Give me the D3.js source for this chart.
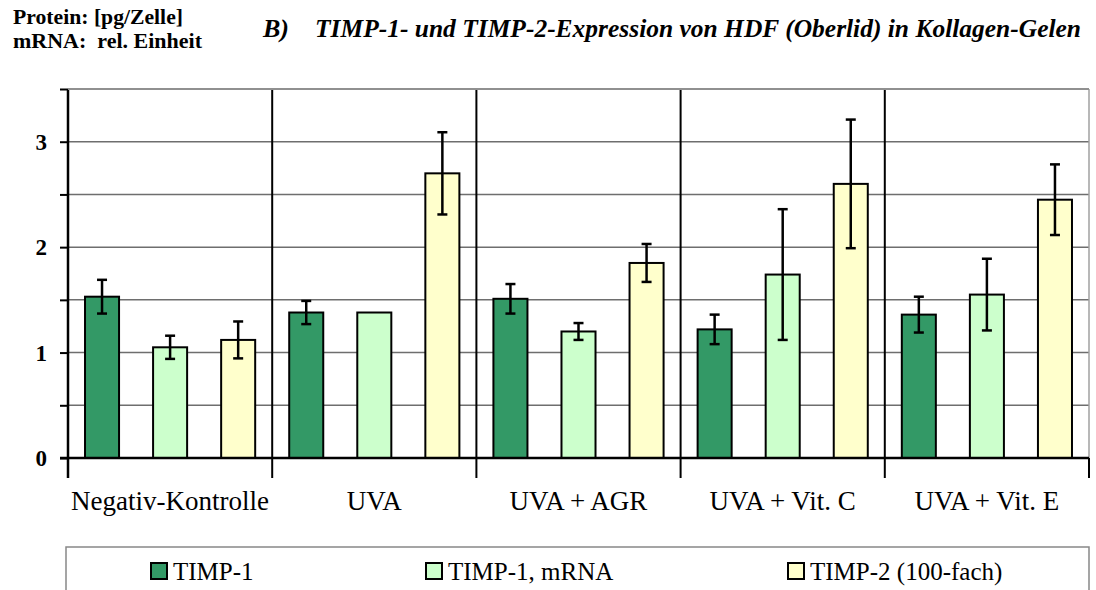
<!DOCTYPE html>
<html>
<head>
<meta charset="utf-8">
<script src="https://cdn.jsdelivr.net/npm/d3@7"></script>
<style>
  body { margin: 0; background: #fff; overflow: hidden; }
  svg { display: block; }
  svg text { font-family: "Liberation Serif", "Times New Roman", serif; fill: #000; }
</style>
</head>
<body>
<div class="svg-wrapper"></div>
<script>
// data
const categories = ["Negativ-Kontrolle", "UVA", "UVA + AGR", "UVA + Vit. C", "UVA + Vit. E"];
const seriesNames = ["TIMP-1", "TIMP-1, mRNA", "TIMP-2 (100-fach)"];
const seriesColors = ["#339966", "#ccffcc", "#ffffcc"];

const timp1 = [1.53, 1.38, 1.51, 1.22, 1.36];
const timp1Err = [0.16, 0.11, 0.14, 0.14, 0.17];
const timp1Mrna = [1.05, 1.38, 1.20, 1.74, 1.55];
const timp1MrnaErr = [0.11, null, 0.08, 0.62, 0.34];
const timp2 = [1.12, 2.70, 1.85, 2.60, 2.45];
const timp2Err = [0.175, 0.39, 0.18, 0.61, 0.335];

const yTickValues = [0, 0.5, 1, 1.5, 2, 2.5, 3, 3.5];

const values = [timp1, timp1Mrna, timp2];
const errors = [timp1Err, timp1MrnaErr, timp2Err];

const width = 1096, height = 590;
const margin = {top: 89, right: 7, bottom: 132, left: 68};
const innerWidth = width - margin.left - margin.right;
const innerHeight = height - margin.top - margin.bottom;

const svg = d3.select(".svg-wrapper")
  .append("svg")
  .attr("width", width)
  .attr("height", height)
  .attr("viewBox", `0 0 ${width} ${height}`);

// header texts
svg.append("text").attr("x", 13).attr("y", 24)
  .style("font-size", "20px").style("font-weight", "bold")
  .attr("textLength", 170).attr("lengthAdjust", "spacingAndGlyphs")
  .text("Protein: [pg/Zelle]");
svg.append("text").attr("x", 13).attr("y", 48)
  .style("font-size", "20px").style("font-weight", "bold")
  .attr("xml:space", "preserve")
  .attr("textLength", 189).attr("lengthAdjust", "spacingAndGlyphs")
  .text("mRNA:  rel. Einheit");

svg.append("text").attr("x", 263).attr("y", 37)
  .style("font-size", "26px").style("font-weight", "bold").style("font-style", "italic")
  .text("B)");
svg.append("text").attr("x", 315).attr("y", 37)
  .style("font-size", "26px").style("font-weight", "bold").style("font-style", "italic")
  .attr("textLength", 766).attr("lengthAdjust", "spacingAndGlyphs")
  .text("TIMP-1- und TIMP-2-Expression von HDF (Oberlid) in Kollagen-Gelen");

const g = svg.append("g")
  .attr("transform", `translate(${margin.left},${margin.top})`);

const xScale = d3.scaleBand()
  .domain(categories)
  .range([0, innerWidth]);

const xInner = d3.scaleBand()
  .domain(seriesNames)
  .range([0, xScale.bandwidth()])
  .paddingInner(0.5)
  .paddingOuter(0.25);

const yScale = d3.scaleLinear()
  .domain([0, 3.5])
  .range([innerHeight, 0]);

// gridlines
g.append("g").selectAll("line")
  .data(yTickValues.filter(d => d > 0))
  .enter().append("line")
    .attr("x1", 0).attr("x2", innerWidth)
    .attr("y1", d => yScale(d)).attr("y2", d => yScale(d))
    .attr("stroke", "#6e6e6e")
    .attr("stroke-width", 1.5);

// right border
g.append("line")
  .attr("x1", innerWidth).attr("x2", innerWidth)
  .attr("y1", 0).attr("y2", innerHeight)
  .attr("stroke", "#a0a0a0").attr("stroke-width", 1.5);

// category dividers (extend below the axis)
g.append("g").selectAll("line")
  .data(categories)
  .enter().append("line")
    .attr("x1", d => xScale(d) + xScale.bandwidth())
    .attr("x2", d => xScale(d) + xScale.bandwidth())
    .attr("y1", (d, i) => i < categories.length - 1 ? 0 : innerHeight)
    .attr("y2", innerHeight + 20)
    .attr("stroke", "#000")
    .attr("stroke-width", 2);

// y axis
const yAxis = d3.axisLeft(yScale)
  .tickValues(yTickValues)
  .tickSize(8)
  .tickPadding(13)
  .tickFormat(d => Number.isInteger(d) ? d : "");

const yAxisG = g.append("g").call(yAxis);
yAxisG.select(".domain").remove();
yAxisG.selectAll(".tick line").attr("stroke", "#000").attr("stroke-width", 2);
yAxisG.selectAll(".tick text")
  .filter(d => !Number.isInteger(d)).remove();
yAxisG.selectAll(".tick text")
  .style("font-family", "'Liberation Serif', serif")
  .style("font-size", "23px")
  .style("font-weight", "bold")
  .attr("dy", "0.34em");

g.append("line")
  .attr("x1", 0).attr("x2", 0)
  .attr("y1", 0).attr("y2", innerHeight + 20)
  .attr("stroke", "#000").attr("stroke-width", 2.5);

// bars
const catG = g.selectAll(".cat")
  .data(categories)
  .enter().append("g")
    .attr("class", "cat")
    .attr("transform", d => `translate(${xScale(d)},0)`);

seriesNames.forEach(function(s, si){
  catG.append("rect")
    .attr("x", xInner(s))
    .attr("width", xInner.bandwidth())
    .attr("y", (d, ci) => yScale(values[si][ci]))
    .attr("height", (d, ci) => innerHeight - yScale(values[si][ci]))
    .attr("fill", seriesColors[si])
    .attr("stroke", "#000")
    .attr("stroke-width", 2);
});

// error bars
seriesNames.forEach(function(s, si){
  const cx = xInner(s) + xInner.bandwidth() / 2;
  const eb = catG.filter((d, ci) => errors[si][ci] != null)
    .append("g")
    .attr("stroke", "#000")
    .attr("stroke-width", 2.5);
  eb.append("line")
    .attr("x1", cx).attr("x2", cx)
    .attr("y1", d => { const ci = categories.indexOf(d); return yScale(values[si][ci] + errors[si][ci]); })
    .attr("y2", d => { const ci = categories.indexOf(d); return yScale(values[si][ci] - errors[si][ci]); });
  [1, -1].forEach(function(sign){
    eb.append("line")
      .attr("x1", cx - 5).attr("x2", cx + 5)
      .attr("y1", d => { const ci = categories.indexOf(d); return yScale(values[si][ci] + sign * errors[si][ci]); })
      .attr("y2", d => { const ci = categories.indexOf(d); return yScale(values[si][ci] + sign * errors[si][ci]); });
  });
});

// top border + zero line
g.append("line")
  .attr("x1", 0).attr("x2", innerWidth)
  .attr("y1", 0).attr("y2", 0)
  .attr("stroke", "#909090").attr("stroke-width", 2);
g.append("line")
  .attr("x1", -8).attr("x2", innerWidth)
  .attr("y1", innerHeight).attr("y2", innerHeight)
  .attr("stroke", "#000").attr("stroke-width", 2.5);

// category labels
g.append("g").selectAll("text")
  .data(categories)
  .enter().append("text")
    .attr("x", d => xScale(d) + xScale.bandwidth() / 2)
    .attr("y", innerHeight + 52)
    .attr("text-anchor", "middle")
    .style("font-size", "27px")
    .text(d => d);

// legend box (its bottom edge lies outside the picture)
const legendX = [151, 426, 788];
svg.append("path")
  .attr("d", `M66,${height}V547H1089V${height}`)
  .attr("fill", "none")
  .attr("stroke", "#888").attr("stroke-width", 1.5);

const legendG = svg.append("g").selectAll("g")
  .data(seriesNames)
  .enter().append("g")
    .attr("transform", (d, i) => `translate(${legendX[i]},563)`);

legendG.append("rect")
  .attr("width", 16).attr("height", 16)
  .attr("fill", (d, i) => seriesColors[i])
  .attr("stroke", "#000").attr("stroke-width", 2);

legendG.append("text")
  .attr("x", 22).attr("y", 17)
  .style("font-size", "25px")
  .text(d => d);
</script>
</body>
</html>
